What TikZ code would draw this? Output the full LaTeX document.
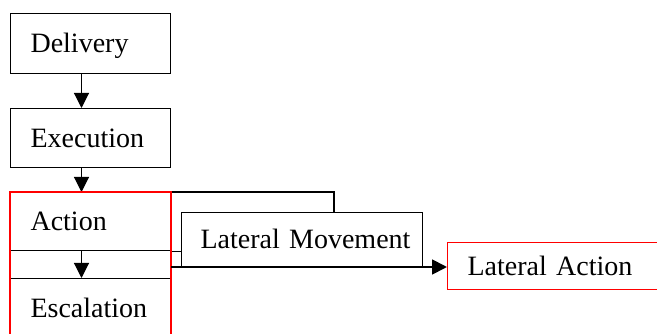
\documentclass[tikz,border=0pt]{standalone}
\usepackage{fontspec}
\setmainfont{Liberation Serif}
\usetikzlibrary{arrows.meta,calc}
\newcommand{\padl}[1]{\hspace*{#1}}
\begin{document}
\begin{tikzpicture}[x=1pt,y=-1pt,
  box/.style={draw=black, line width=1.1pt, fill=white, rectangle, anchor=north west,
    inner xsep=0pt, inner ysep=0pt, align=left, text height=18.5pt, text depth=0pt,
    font=\fontsize{28}{34}\selectfont},
  redbox/.style={box, draw=red, line width=1pt},
  arr/.style={draw=black, line width=1.1pt, -{Triangle[length=15pt,width=15pt]}},
  latarr/.style={arr, line width=1.8pt},
  hilite/.style={draw=red, line width=2pt}]
\useasboundingbox (0,0) rectangle (657,334);
\clip (0,0) rectangle (657,334);
\coordinate (ax) at (81.5,0);
\coordinate (gx) at (334,0);
\coordinate (ay) at (0,267);
% boxes
\node[box, minimum width=160pt, minimum height=60pt, text width=160pt] (delivery) at (10,13) {\padl{20pt}Delivery};
\node[box, minimum width=160pt, minimum height=59pt, text width=160pt] (execution) at (10,108) {\padl{20pt}Execution};
\node[box, minimum width=160pt, minimum height=58pt, text width=160pt] (action) at (10,192) {\padl{20pt}Action};
\node[box, minimum width=160pt, minimum height=60pt, text width=160pt] (escalation) at (10,278) {\padl{20pt}Escalation};
\node[box, minimum width=241pt, minimum height=54pt, text width=241pt] (lm) at (181,212) {\padl{19pt}Lateral Movement};
\draw[line width=1.1pt] (action.north east) -| (lm.north -| gx);
\node[redbox, minimum width=240pt, minimum height=47pt, text width=240pt] (la) at (447,242) {\padl{20pt}Lateral Action};
% connectors
\draw[arr] (delivery.south -| ax) -- (execution.north -| ax);
\draw[arr] (execution.south -| ax) -- (action.north -| ax);
\draw[arr] (action.south -| ax) -- (escalation.north -| ax);
\draw[line width=1.1pt] (action.south east) -- (lm.west |- action.south);
% red highlight
\draw[hilite] (action.north west) rectangle (escalation.south east);
\draw[latarr] (action.east |- ay) -- (la.west |- ay);
\end{tikzpicture}
\end{document}
